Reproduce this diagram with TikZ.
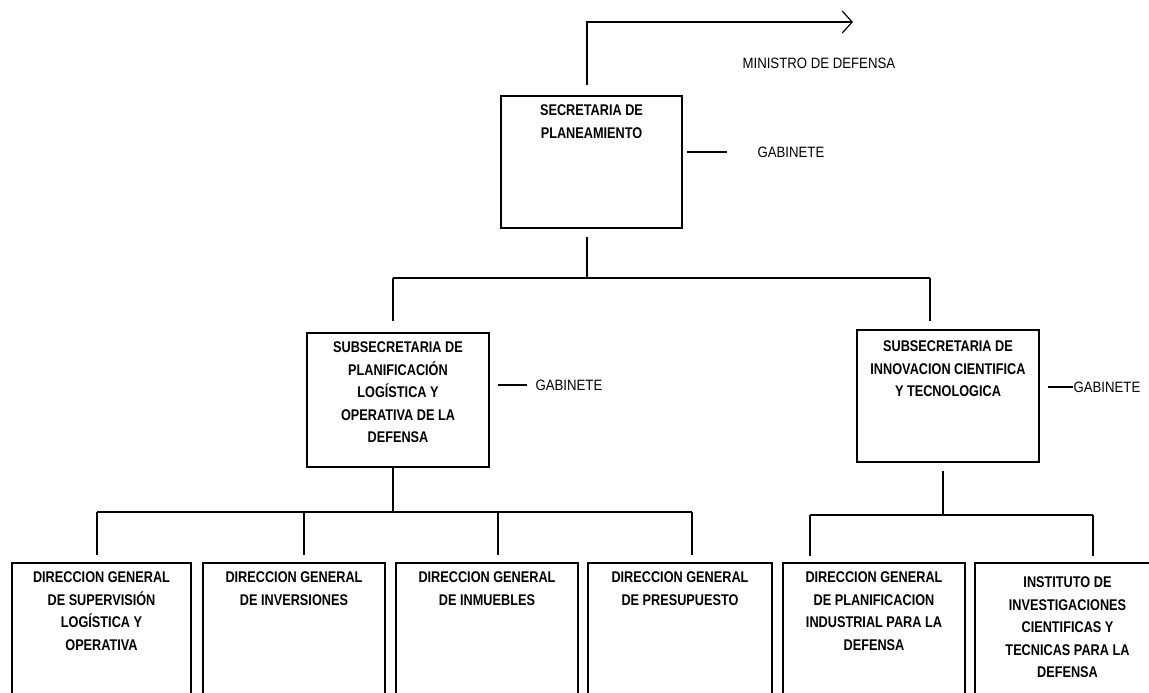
\documentclass[tikz,border=0pt]{standalone}
\usepackage{fontspec}
\setmainfont{Liberation Sans}
\newfontfamily\boxfont{Liberation Sans}[FakeStretch=0.82]
\newfontfamily\sidefont{Liberation Sans}[FakeStretch=0.88]
\usetikzlibrary{arrows.meta}
\begin{document}
\begin{tikzpicture}[x=1pt,y=-1pt, line width=1.2pt,
  orgbox/.style={draw, rectangle, inner sep=0pt},
  boxtext/.style={font=\boxfont\bfseries\fontsize{15.5}{22.5}\selectfont, align=center, inner sep=0pt, anchor=north},
  side/.style={font=\sidefont\fontsize{15}{16}\selectfont, inner sep=0pt, anchor=west},
  ministro/.style={-{Straight Barb[length=10pt,width=22pt]}},
]
\useasboundingbox (0,0) rectangle (1149,693);

% top level
\node[orgbox, minimum width=181pt, minimum height=132pt,
  label={[boxtext, yshift=-9pt]north:{SECRETARIA DE\\PLANEAMIENTO}}] (sec) at (591.5,162) {};
\node[side] (min) at (742,63) {MINISTRO DE DEFENSA};
\node[side] (gab0) at (757,152) {GABINETE};
\coordinate (mtop) at (587,22);
\coordinate (marrow) at (853,22);
\draw[ministro, shorten <=10pt] (sec.north -| mtop) -- (mtop) -- (marrow);
\draw ([xshift=-70pt]gab0.west) -- ([xshift=-30pt]gab0.west);

% second level
\node[orgbox, minimum width=182pt, minimum height=134pt,
  label={[boxtext, yshift=-9pt]north:{SUBSECRETARIA DE\\PLANIFICACIÓN\\LOGÍSTICA Y\\OPERATIVA DE LA\\DEFENSA}}] (subL) at (398,400) {};
\node[orgbox, minimum width=182pt, minimum height=132pt,
  label={[boxtext, yshift=-11pt]north:{SUBSECRETARIA DE\\INNOVACION CIENTIFICA\\Y TECNOLOGICA}}] (subR) at (948,396) {};
\node[side] (gab1) at (535,385) {GABINETE};
\node[side] (gab2) at (1073,387) {GABINETE};
\draw ([xshift=-37pt]gab1.west) -- ([xshift=-8pt]gab1.west);
\draw ([xshift=-25pt]gab2.west) -- (gab2.west);

\coordinate (b1) at (587,278);
\coordinate (bL) at (393,278);
\coordinate (bR) at (930,278);
\draw[shorten <=8pt] (sec.south -| b1) -- (b1);
\draw (bL) -- (bR);
\draw[shorten >=11pt] (bL) -- (bL |- subL.north);
\draw[shorten >=8pt] (bR) -- (bR |- subR.north);

% third level
\node[orgbox, minimum width=179pt, minimum height=147pt,
  label={[boxtext, yshift=-9pt]north:{DIRECCION GENERAL\\DE SUPERVISIÓN\\LOGÍSTICA Y\\OPERATIVA}}] (d1) at (101.5,636.5) {};
\node[orgbox, minimum width=182pt, minimum height=147pt,
  label={[boxtext, yshift=-9pt]north:{DIRECCION GENERAL\\DE INVERSIONES}}] (d2) at (294,636.5) {};
\node[orgbox, minimum width=182pt, minimum height=147pt,
  label={[boxtext, yshift=-9pt]north:{DIRECCION GENERAL\\DE INMUEBLES}}] (d3) at (487,636.5) {};
\node[orgbox, minimum width=184pt, minimum height=147pt,
  label={[boxtext, yshift=-9pt]north:{DIRECCION GENERAL\\DE PRESUPUESTO}}] (d4) at (680,636.5) {};
\node[orgbox, minimum width=182pt, minimum height=147pt,
  label={[boxtext, yshift=-9pt]north:{DIRECCION GENERAL\\DE PLANIFICACION\\INDUSTRIAL PARA LA\\DEFENSA}}] (d5) at (874,636.5) {};
\node[orgbox, minimum width=185pt, minimum height=147pt,
  label={[boxtext, yshift=-14pt]north:{INSTITUTO DE\\INVESTIGACIONES\\CIENTIFICAS Y\\TECNICAS PARA LA\\DEFENSA}}] (d6) at (1067.5,636.5) {};

% left bus
\coordinate (cL) at (393,512);
\coordinate (c1) at (97,512);
\coordinate (c2) at (304,512);
\coordinate (c3) at (498,512);
\coordinate (c4) at (692,512);
\draw (subL.south -| cL) -- (cL);
\draw (c1) -- (c4);
\foreach \c/\d in {c1/d1,c2/d2,c3/d3,c4/d4}
  \draw[shorten >=7pt] (\c) -- (\c |- \d.north);

% right bus
\coordinate (cR) at (943,515);
\coordinate (c5) at (810,515);
\coordinate (c6) at (1093,515);
\draw[shorten <=8pt] (subR.south -| cR) -- (cR);
\draw (c5) -- (c6);
\foreach \c/\d in {c5/d5,c6/d6}
  \draw[shorten >=6pt] (\c) -- (\c |- \d.north);
\end{tikzpicture}
\end{document}
